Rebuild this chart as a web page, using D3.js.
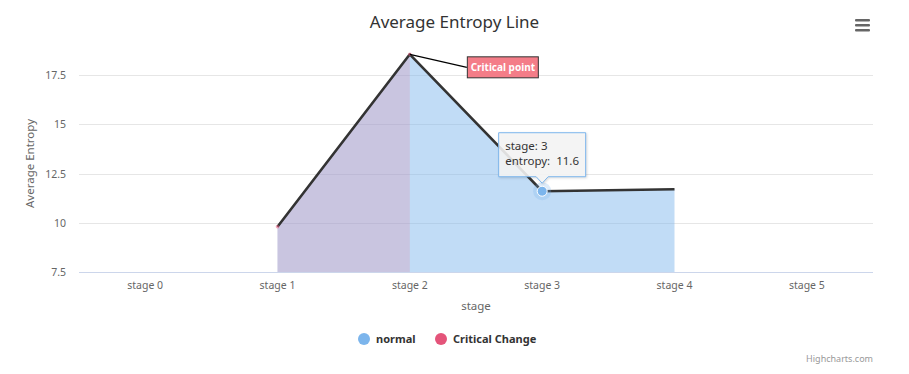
<!DOCTYPE html>
<html>
<head>
<meta charset="utf-8">
<script src="https://cdn.jsdelivr.net/npm/d3@7"></script>
<style>
  body { margin: 0; background: #fff; }
  text { font-family: "Noto Sans", "Open Sans", sans-serif; }
</style>
</head>
<body>
<div id="chart"></div>
<script>
// data
var stages = ["stage 0", "stage 1", "stage 2", "stage 3", "stage 4", "stage 5"];
var entropy = [null, 9.8, 18.55, 11.6, 11.7, null];
var criticalStages = ["stage 1", "stage 2"];
var yTicks = [7.5, 10, 12.5, 15, 17.5];
var legendItems = ["normal", "Critical Change"];

var width = 909, height = 374;
var left = 79, right = 873, bottom = 272;

var svg = d3.select("#chart").append("svg")
  .attr("width", width)
  .attr("height", height);

var xScale = d3.scaleBand().domain(stages).range([left, right]);
var yScale = d3.scaleLinear().domain([7.5, 17.5]).range([bottom, 75]);
var cx = d => xScale(d) + xScale.bandwidth() / 2;

var blue = "#7cb5ec", pink = "#f15c80";

/* title */
svg.append("text")
  .attr("x", width / 2).attr("y", 28)
  .attr("text-anchor", "middle")
  .style("font-size", "17px").style("fill", "#333")
  .text("Average Entropy Line");

/* grid */
svg.append("g").selectAll("line")
  .data(yTicks.slice(1)).enter().append("line")
  .attr("x1", left).attr("x2", right)
  .attr("y1", d => Math.round(yScale(d)) + 0.5)
  .attr("y2", d => Math.round(yScale(d)) + 0.5)
  .style("stroke", "#e6e6e6");

/* y axis labels */
var yAxis = d3.axisLeft(yScale).tickValues(yTicks).tickSize(0).tickPadding(0).tickFormat(d => d);
var yg = svg.append("g").attr("transform", `translate(${left - 13},0)`).call(yAxis);
yg.select(".domain").remove();
yg.selectAll("text").style("font-size", "10.5px").style("fill", "#666")
  .attr("dy", "0.35em").style("font-family", "\"Noto Sans\", sans-serif");

svg.append("text")
  .attr("transform", `translate(34,${(bottom + 55) / 2}) rotate(-90)`)
  .attr("text-anchor", "middle")
  .style("font-size", "11.5px").style("fill", "#666")
  .text("Average Entropy");

/* series data */
var pts = stages.map((s, i) => ({ stage: s, i: i, v: entropy[i] })).filter(d => d.v != null);
var critPts = pts.filter(d => criticalStages.indexOf(d.stage) >= 0);

var area = d3.area()
  .x(d => cx(d.stage))
  .y0(yScale(7.5))
  .y1(d => yScale(d.v));
var line = d3.line()
  .x(d => cx(d.stage))
  .y(d => yScale(d.v));

svg.append("path").attr("d", area(pts))
  .style("fill", blue).style("fill-opacity", 0.47);
svg.append("path").attr("d", area(critPts))
  .style("fill", pink).style("fill-opacity", 0.18);

/* x axis */
svg.append("line")
  .attr("x1", left).attr("x2", right)
  .attr("y1", bottom + 0.5).attr("y2", bottom + 0.5)
  .style("stroke", "#ccd6eb");

var xg = svg.append("g").attr("transform", `translate(0,${bottom})`)
  .call(d3.axisBottom(xScale).tickSize(0).tickPadding(10));
xg.select(".domain").remove();
xg.selectAll("text").style("font-size", "10.5px").style("fill", "#666")
  .style("font-family", "\"Noto Sans\", sans-serif");

svg.append("text")
  .attr("x", (left + right) / 2).attr("y", 310)
  .attr("text-anchor", "middle")
  .style("font-size", "11.5px").style("fill", "#666")
  .text("stage");

/* line */
svg.append("path").attr("d", line(pts))
  .style("fill", "none").style("stroke", "#333").style("stroke-width", 2.6)
  .style("stroke-linejoin", "round");

svg.append("g").selectAll("circle")
  .data(critPts).enter().append("circle")
  .attr("cx", d => cx(d.stage)).attr("cy", d => yScale(d.v))
  .attr("r", 1.8).style("fill", pink).style("opacity", 0.5);

/* hovered point */
var hp = pts.find(d => d.stage === "stage 3");
svg.append("circle").attr("cx", cx(hp.stage)).attr("cy", yScale(hp.v))
  .attr("r", 9).style("fill", blue).style("opacity", 0.25);
svg.append("circle").attr("cx", cx(hp.stage)).attr("cy", yScale(hp.v))
  .attr("r", 5).style("fill", blue).style("stroke", "#fff").style("stroke-width", 1);

/* annotation */
var peak = pts.find(d => d.stage === "stage 2");
var px = cx(peak.stage), py = yScale(peak.v);
svg.append("line")
  .attr("x1", px).attr("y1", py).attr("x2", px + 57).attr("y2", py + 13)
  .style("stroke", "#000").style("stroke-width", 1.2);
svg.append("rect")
  .attr("x", px + 57.5).attr("y", py + 2.5).attr("width", 71).attr("height", 21)
  .style("fill", "#f47d88").style("stroke", "#333").style("stroke-width", 1);
svg.append("text")
  .attr("x", px + 93).attr("y", py + 17)
  .attr("text-anchor", "middle")
  .style("font-size", "10px").style("font-weight", "bold").style("fill", "#fff")
  .text("Critical point");

/* tooltip */
var tx = cx(hp.stage), ty = yScale(hp.v);
var bx = tx - 44, by = ty - 59, bw = 88, bh = 45;
svg.append("path")
  .attr("d", `M${bx + 0.5},${by + 0.5}H${bx + bw - 0.5}V${by + bh - 0.5}H${tx + 6}L${tx},${ty - 8}L${tx - 6},${by + bh - 0.5}H${bx + 0.5}Z`)
  .style("fill", "rgba(247,247,247,0.88)").style("stroke", blue).style("stroke-width", 1)
  .style("filter", "drop-shadow(1px 1px 1px rgba(0,0,0,0.15))");
svg.append("text").attr("x", bx + 7).attr("y", by + 18)
  .style("font-size", "11.5px").style("fill", "#333").text("stage: 3");
svg.append("text").attr("x", bx + 7).attr("y", by + 33)
  .style("font-size", "11.5px").style("fill", "#333").style("white-space", "pre")
  .text("entropy:  " + hp.v);

/* legend */
var legendColors = [blue, "#e4547a"];
var legendX = [364, 441];
var lg = svg.append("g").selectAll("g")
  .data(legendItems).enter().append("g")
  .attr("transform", (d, i) => `translate(${legendX[i]},339)`);
lg.append("circle").attr("r", 6).style("fill", (d, i) => legendColors[i]);
lg.append("text").attr("x", 12).attr("y", 4)
  .style("font-size", "11px").style("font-weight", "bold").style("fill", "#333")
  .text(d => d);

/* credits */
svg.append("text")
  .attr("x", right).attr("y", 362)
  .attr("text-anchor", "end")
  .style("font-size", "9px").style("fill", "#999")
  .text("Highcharts.com");

/* menu icon */
svg.append("g").selectAll("rect")
  .data([0, 1, 2]).enter().append("rect")
  .attr("x", 855).attr("y", d => 19 + d * 5).attr("width", 15).attr("height", 2.5)
  .attr("rx", 1).style("fill", "#666");
</script>
</body>
</html>
